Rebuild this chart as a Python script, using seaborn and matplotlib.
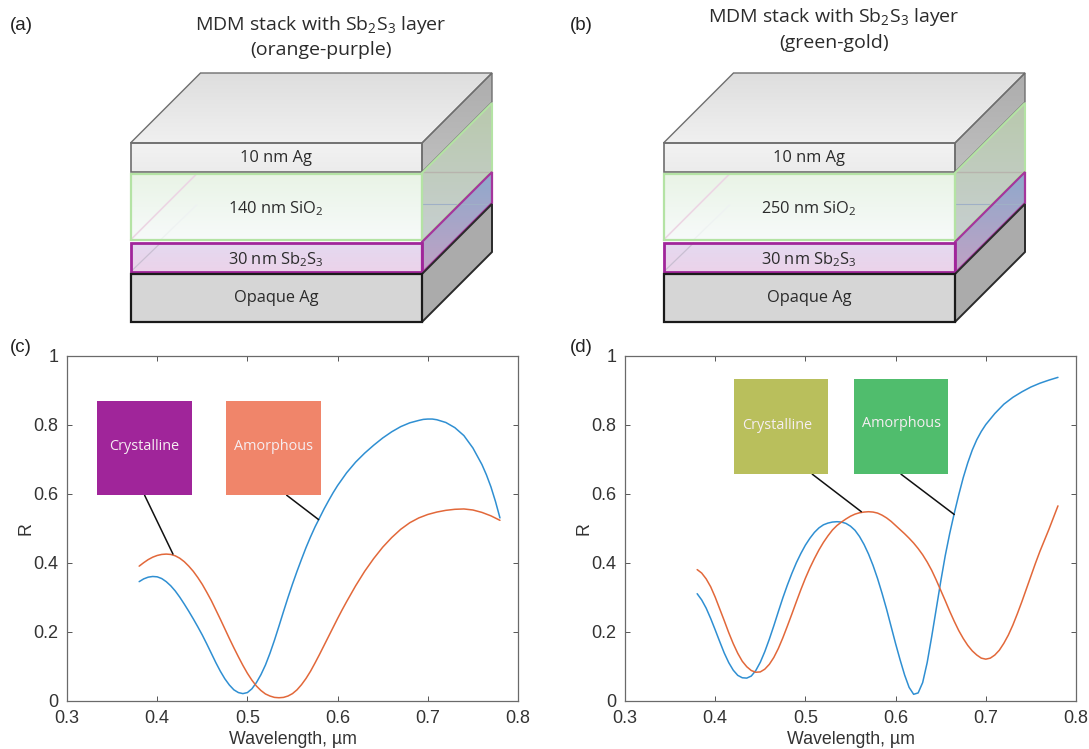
import numpy as np
import pandas as pd
import matplotlib
matplotlib.use("Agg")
import matplotlib.pyplot as plt
from matplotlib.patches import Polygon, Rectangle
from matplotlib.colors import LinearSegmentedColormap
import seaborn as sns

# ---------- data ----------
c_blue_x = [.38,.385,.39,.395,.40,.405,.41,.415,.42,.425,.43,.435,.44,.445,.45,.455,.46,.465,.47,.475,.48,.485,.49,.495,.50,.505,.51,.515,.52,.525,.53,.535,.54,.545,.55,.555,.56,.565,.57,.575,.58,.585,.59,.595,.60,.61,.62,.63,.64,.65,.66,.67,.68,.69,.695,.70,.705,.71,.72,.73,.74,.75,.76,.765,.77,.775,.78]
c_blue_y = [.345,.353,.358,.360,.359,.354,.345,.333,.318,.300,.280,.259,.237,.214,.190,.164,.137,.110,.085,.063,.045,.031,.023,.020,.023,.034,.052,.075,.103,.137,.175,.216,.258,.299,.338,.375,.410,.444,.475,.504,.530,.556,.580,.603,.624,.661,.692,.718,.741,.762,.780,.795,.806,.813,.816,.817,.817,.815,.807,.792,.769,.733,.685,.655,.620,.578,.530]
c_orange_x = [.38,.385,.39,.395,.40,.405,.41,.415,.42,.425,.43,.435,.44,.445,.45,.455,.46,.465,.47,.475,.48,.485,.49,.495,.50,.505,.51,.515,.52,.525,.53,.535,.54,.545,.55,.555,.56,.565,.57,.575,.58,.585,.59,.595,.60,.605,.61,.62,.63,.64,.65,.66,.67,.68,.69,.70,.71,.72,.73,.74,.75,.76,.77,.78]
c_orange_y = [.390,.400,.409,.416,.421,.424,.425,.424,.420,.413,.403,.390,.375,.357,.337,.314,.290,.263,.236,.208,.180,.153,.127,.102,.079,.059,.042,.029,.019,.013,.009,.008,.009,.013,.020,.031,.046,.064,.085,.109,.134,.160,.186,.212,.238,.263,.287,.333,.375,.412,.445,.473,.497,.516,.530,.540,.547,.552,.555,.556,.553,.546,.536,.523]
d_blue_x = [.38,.385,.39,.395,.40,.405,.41,.415,.42,.425,.43,.435,.44,.445,.45,.455,.46,.465,.47,.475,.48,.485,.49,.495,.50,.505,.51,.515,.52,.525,.53,.535,.54,.545,.55,.555,.56,.565,.57,.575,.58,.585,.59,.595,.60,.605,.61,.615,.62,.625,.63,.635,.64,.645,.65,.655,.66,.665,.67,.675,.68,.685,.69,.695,.70,.71,.72,.73,.74,.75,.76,.77,.78]
d_blue_y = [.310,.292,.268,.238,.205,.171,.138,.110,.088,.073,.066,.065,.071,.087,.111,.142,.178,.217,.258,.298,.335,.369,.400,.427,.451,.471,.488,.501,.510,.515,.518,.519,.518,.514,.506,.494,.476,.453,.425,.392,.354,.311,.265,.215,.165,.118,.074,.038,.018,.022,.052,.110,.185,.265,.345,.420,.485,.543,.597,.647,.690,.727,.757,.781,.801,.833,.860,.880,.896,.910,.921,.930,.938]
d_orange_x = [.38,.385,.39,.395,.40,.405,.41,.415,.42,.425,.43,.435,.44,.445,.45,.455,.46,.465,.47,.475,.48,.485,.49,.495,.50,.505,.51,.515,.52,.525,.53,.535,.54,.545,.55,.555,.56,.565,.57,.575,.58,.585,.59,.595,.60,.605,.61,.615,.62,.625,.63,.635,.64,.645,.65,.655,.66,.665,.67,.675,.68,.685,.69,.695,.70,.705,.71,.715,.72,.725,.73,.735,.74,.745,.75,.755,.76,.765,.77,.775,.78]
d_orange_y = [.380,.370,.353,.330,.300,.266,.232,.197,.165,.137,.114,.098,.087,.082,.083,.091,.105,.125,.151,.182,.216,.251,.287,.322,.355,.385,.412,.437,.459,.478,.495,.508,.518,.527,.535,.541,.545,.547,.548,.547,.544,.538,.530,.520,.508,.496,.484,.471,.457,.441,.423,.402,.378,.350,.320,.290,.259,.230,.203,.180,.160,.144,.132,.123,.120,.123,.132,.146,.166,.190,.219,.252,.287,.324,.361,.398,.433,.465,.497,.531,.565]

x_ticks = [0.3, 0.4, 0.5, 0.6, 0.7, 0.8]
y_ticks = [0, 0.2, 0.4, 0.6, 0.8, 1]
x_labels = ["0.3", "0.4", "0.5", "0.6", "0.7", "0.8"]
y_labels = ["0", "0.2", "0.4", "0.6", "0.8", "1"]

sns.set_theme(style="white")
plt.rcParams["font.family"] = ["Liberation Sans", "DejaVu Sans"]
plt.rcParams["mathtext.default"] = "regular"

W, H = 1089, 749
fig = plt.figure(figsize=(W / 100, H / 100), dpi=100, facecolor="white")

# ---------- schematic canvas in pixels ----------
bg = fig.add_axes([0, 0, 1, 1], zorder=0)
bg.set_xlim(0, W); bg.set_ylim(H, 0); bg.axis("off")
DIAG = ["Open Sans", "DejaVu Sans"]
TC = "#2b2b2b"


def grad_poly(pts, c1, c2, alpha=1.0, z=2):
    cm = LinearSegmentedColormap.from_list("g", [c1, c2])
    pts = np.array(pts, float)
    x0, x1, y0, y1 = pts[:, 0].min(), pts[:, 0].max(), pts[:, 1].min(), pts[:, 1].max()
    im = bg.imshow(np.linspace(0, 1, 64)[:, None], cmap=cm, extent=(x0, x1, y1, y0),
                   aspect="auto", alpha=alpha, zorder=z, interpolation="bilinear")
    im.set_clip_path(Polygon(pts, transform=bg.transData))


def stack(dx, oxide):
    L, R = 130.5 + dx, 422 + dx
    D = 70

    def side(y0, y1):
        return [(R, y0), (R + D, y0 - D), (R + D, y1 - D), (R, y1)]
    bg.add_patch(Polygon(side(274, 322), fc="#ababab", ec="none", zorder=1))
    bg.add_patch(Rectangle((L, 274), R - L, 48, fc="#d6d6d6", ec="none", zorder=1))
    grad_poly(side(242, 273), "#8fa9cc", "#c0a2c4", z=2)
    grad_poly([(L, 243), (R, 243), (R, 272), (L, 272)], "#e4d9f0", "#ecd3ea", z=2)
    grad_poly(side(173, 241), "#b9c9ad", "#c7cfd0", z=2)
    grad_poly([(L, 174), (R, 174), (R, 240), (L, 240)], "#e9f4e6", "#f7fafa", z=2)
    grad_poly(side(143, 172), "#adadad", "#bfbfbf", z=3)
    grad_poly([(L, 143), (R, 143), (R, 172), (L, 172)], "#f2f2f2", "#ececec", z=3)
    grad_poly([(L, 143), (L + D, 73), (R + D, 73), (R, 143)], "#dedede", "#f0f0f0", z=3)
    # faint edges through the transparent layers
    bg.plot([L, L + 66], [240, 174], color="#ecd6e4", lw=1.2, zorder=3)
    bg.plot([L, L + 30], [272, 243], color="#c9bfd2", lw=0.9, zorder=3)
    bg.plot([L + 30, L + 66], [240, 205], color="#eef2f2", lw=0.9, zorder=3)
    bg.plot([R, R + D], [172, 172], color="#b7b3ad", lw=1.0, zorder=3)
    bg.plot([R, R + D], [204, 204], color="#9fb0c6", lw=0.8, zorder=3)
    grey = "#6e6e6e"
    bg.add_patch(Polygon([(L, 143), (L + D, 73), (R + D, 73), (R, 143)], fc="none", ec=grey, lw=1.0, zorder=4))
    bg.add_patch(Polygon(side(143, 172), fc="none", ec=grey, lw=1.0, zorder=4))
    bg.add_patch(Rectangle((L, 143), R - L, 29, fc="none", ec=grey, lw=1.2, zorder=4))
    bg.add_patch(Polygon(side(173, 241), fc="none", ec="#b4e3a4", lw=1.5, zorder=4))
    bg.add_patch(Rectangle((L, 174), R - L, 66, fc="none", ec="#b4e3a4", lw=1.6, zorder=4))
    bg.add_patch(Polygon(side(242, 273), fc="none", ec="#a5369c", lw=1.6, zorder=5))
    bg.add_patch(Rectangle((L, 243), R - L, 29, fc="none", ec="#a0259a", lw=2.0, zorder=5))
    bg.add_patch(Polygon(side(274, 322), fc="none", ec="#2a2a2a", lw=1.4, zorder=6))
    bg.add_patch(Rectangle((L, 274), R - L, 48, fc="none", ec="#1a1a1a", lw=1.6, zorder=6))
    cx = 276 + dx
    for y, s in [(158, "10 nm Ag"), (209, oxide + " nm SiO$_2$"),
                 (260, "30 nm Sb$_2$S$_3$"), (298, "Opaque Ag")]:
        bg.text(cx, y, s, ha="center", va="center", fontsize=11.8, color=TC, family=DIAG, zorder=7)


stack(0, "140")
stack(533, "250")
bg.set_xlim(0, W); bg.set_ylim(H, 0)

for x, y, s in [(10, 25, "(a)"), (570, 25, "(b)"), (10, 347, "(c)"), (570, 347, "(d)")]:
    bg.text(x, y, s, ha="left", va="center", fontsize=13.5, color="#222222")
TITLE = 14
bg.text(321, 25, "MDM stack with Sb$_2$S$_3$ layer", ha="center", va="center", fontsize=TITLE, color=TC, family=DIAG)
bg.text(321, 50, "(orange-purple)", ha="center", va="center", fontsize=TITLE, color=TC, family=DIAG)
bg.text(834, 17, "MDM stack with Sb$_2$S$_3$ layer", ha="center", va="center", fontsize=TITLE, color=TC, family=DIAG)
bg.text(834, 43, "(green-gold)", ha="center", va="center", fontsize=TITLE, color=TC, family=DIAG)


# ---------- charts ----------
def chart(px0, bx, by, ox, oy, boxes, leaders):
    ax = fig.add_axes([px0 / W, 1 - 700.5 / H, 451 / W, 344.5 / H], zorder=2, facecolor="white")
    sns.lineplot(data=pd.DataFrame({"x": bx, "y": by}), x="x", y="y", ax=ax, color="#2f8fd2",
                 lw=1.1, estimator=None, sort=False, errorbar=None)
    sns.lineplot(data=pd.DataFrame({"x": ox, "y": oy}), x="x", y="y", ax=ax, color="#e2683a",
                 lw=1.1, estimator=None, sort=False, errorbar=None)
    ax.set_xlim(0.3, 0.8); ax.set_ylim(0, 1)
    ax.set_xticks(x_ticks, x_labels); ax.set_yticks(y_ticks, y_labels)
    ax.tick_params(direction="in", length=3.5, width=0.7, top=True, right=True, bottom=True, left=True,
                   color="#555555", labelcolor="#333333", labelsize=13)
    ax.tick_params(axis="x", pad=7)
    ax.tick_params(axis="y", pad=6)
    for s in ax.spines.values():
        s.set_color("#6a6a6a"); s.set_linewidth(0.9)
    ax.set_xlabel("Wavelength, µm", fontsize=12.8, color="#333333")
    ax.set_ylabel("R", fontsize=12.8, color="#333333")
    ax.xaxis.set_label_coords(0.5, -0.0885)
    ax.yaxis.set_label_coords(-0.073, 0.5)
    for (x0, x1, y0, y1, col, s, tx, ty) in boxes:
        ax.add_patch(Rectangle((x0, y0), x1 - x0, y1 - y0, fc=col, ec="none", zorder=5))
        ax.text(tx, ty, s, color="#f6eef2", fontsize=10.4, ha="center", va="center", family=DIAG, zorder=6)
    for (x0, y0, x1, y1) in leaders:
        ax.plot([x0, x1], [y0, y1], color="#111111", lw=1.1, zorder=4)
    return ax


chart(67, c_blue_x, c_blue_y, c_orange_x, c_orange_y,
      [(.3337, .4385, .596, .87, "#a0259a", "Crystalline", .3858, .737),
       (.476, .5815, .596, .87, "#f0856a", "Amorphous", .529, .737)],
      [(.386, .596, .4175, .425), (.5435, .596, .579, .525)])
chart(625, d_blue_x, d_blue_y, d_orange_x, d_orange_y,
      [(.4205, .5255, .657, .933, "#b9bf5c", "Crystalline", .4687, .797),
       (.5535, .6585, .657, .933, "#50bd6d", "Amorphous", .6065, .805)],
      [(.5076, .657, .562, .548), (.606, .657, .665, .54)])

fig.savefig("out.png", dpi=100)
